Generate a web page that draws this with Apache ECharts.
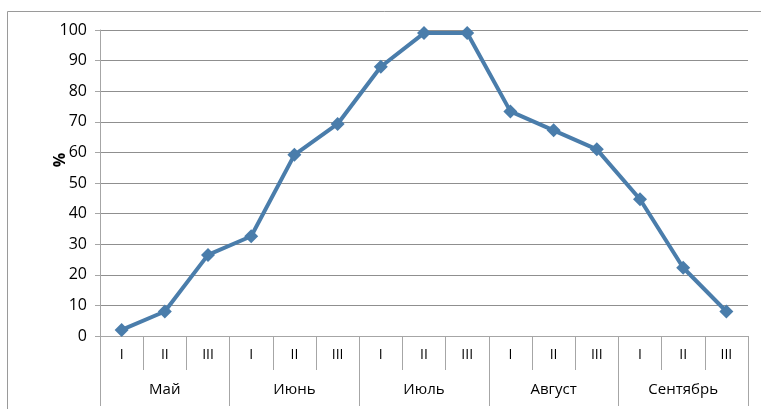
<!DOCTYPE html>
<html>
<head>
<meta charset="utf-8">
<script src="https://cdn.jsdelivr.net/npm/echarts@6/dist/echarts.min.js"></script>
<style>
  html, body { margin: 0; padding: 0; background: #fff; }
  #chart { width: 761px; height: 409px; }
</style>
</head>
<body>
<div id="chart"></div>
<script>
// Ten-day periods (декады) within each month
const decades = ['I', 'II', 'III', 'I', 'II', 'III', 'I', 'II', 'III', 'I', 'II', 'III', 'I', 'II', 'III'];
const months = ['Май', 'Июнь', 'Июль', 'Август', 'Сентябрь'];
// Share per decade, %
const values = [2, 8, 26.5, 32.6, 59.2, 69.3, 88, 99, 99, 73.4, 67.2, 61, 44.7, 22.3, 8];

const axisGray = '#a6a6a6';
const textFont = '"Open Sans", Lato, sans-serif';

const chart = echarts.init(document.getElementById('chart'), null, { renderer: 'canvas' });
chart.setOption({
  animation: false,
  backgroundColor: '#fff',
  textStyle: { fontFamily: textFont },
  graphic: [{
    type: 'rect',
    shape: { x: 7.5, y: 11.5, width: 800, height: 500 },
    style: { fill: 'none', stroke: '#9a9a9a', lineWidth: 1 },
    silent: true
  }],
  grid: { left: 100, top: 30, right: 13, bottom: 73, containLabel: false },
  xAxis: [{
    type: 'category',
    data: decades,
    boundaryGap: true,
    position: 'bottom',
    axisLine: { show: true, lineStyle: { color: axisGray, width: 1 } },
    axisTick: { show: true, interval: 0, length: 34, lineStyle: { color: axisGray } },
    axisLabel: { interval: 0, margin: 12, color: '#000', fontSize: 14, fontFamily: textFont },
    splitLine: { show: false }
  }, {
    type: 'category',
    data: months,
    boundaryGap: true,
    position: 'bottom',
    axisLine: { show: false },
    axisTick: { show: true, interval: 0, length: 70, lineStyle: { color: axisGray } },
    axisLabel: { interval: 0, margin: 46, color: '#000', fontSize: 15, fontFamily: textFont },
    splitLine: { show: false }
  }],
  yAxis: {
    type: 'value',
    min: 0,
    max: 100,
    interval: 10,
    name: '%',
    nameLocation: 'middle',
    nameRotate: 90,
    nameGap: 32,
    nameMoveOverlap: false,
    nameTextStyle: { color: '#000', fontSize: 16, fontWeight: 'bold', fontFamily: textFont, padding: [0, 0, 0, 46] },
    axisLine: { show: true, lineStyle: { color: axisGray } },
    axisTick: { show: true, length: 5, lineStyle: { color: axisGray } },
    axisLabel: { margin: 13, color: '#000', fontSize: 16, fontFamily: textFont },
    splitLine: { show: true, lineStyle: { color: '#8f8f8f', width: 1 } }
  },
  series: [{
    type: 'line',
    xAxisIndex: 0,
    data: values,
    symbol: 'diamond',
    symbolSize: 14,
    lineStyle: { color: '#4a7dab', width: 4 },
    itemStyle: { color: '#4a7dab' }
  }]
});
</script>
</body>
</html>
